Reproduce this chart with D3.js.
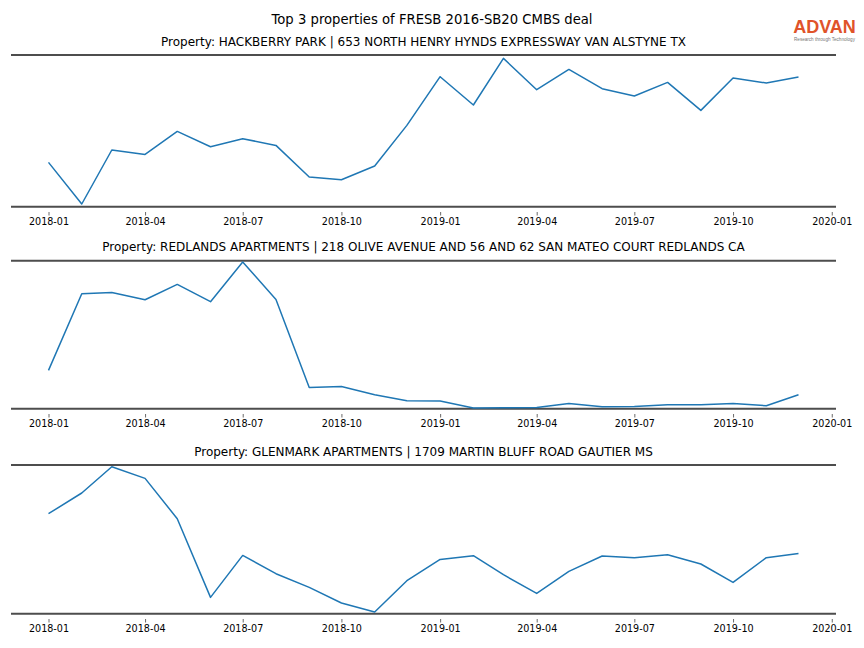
<!DOCTYPE html>
<html><head><meta charset="utf-8">
<script src="https://cdn.jsdelivr.net/npm/d3@7"></script>
<style>body{margin:0;background:#fff}svg{display:block}</style>
</head><body>
<script>
// ---- data ----
const months = ["2018-01","2018-02","2018-03","2018-04","2018-05","2018-06","2018-07","2018-08","2018-09","2018-10","2018-11","2018-12",
                "2019-01","2019-02","2019-03","2019-04","2019-05","2019-06","2019-07","2019-08","2019-09","2019-10","2019-11","2019-12"];
const titles = [
  "Property: HACKBERRY PARK | 653 NORTH HENRY HYNDS EXPRESSWAY VAN ALSTYNE TX",
  "Property: REDLANDS APARTMENTS | 218 OLIVE AVENUE AND 56 AND 62 SAN MATEO COURT REDLANDS CA",
  "Property: GLENMARK APARTMENTS | 1709 MARTIN BLUFF ROAD GAUTIER MS"
];
const hackberry = [44.3, 2.7, 56.7, 52.3, 75.3, 60, 68, 61.3, 29.7, 27, 40.7, 81.3,
                   130, 101.7, 148.3, 117, 137.3, 118, 110.7, 124.3, 96.3, 128.7, 123.7, 129.7];
const redlands  = [38.3, 115, 116.3, 109, 124.3, 107, 146.7, 109.3, 21.3, 22.3, 14, 8,
                   7.7, 0.7, 1, 1.3, 5.3, 2, 2.3, 4, 4, 5.3, 3, 14];
const glenmark  = [100, 120.7, 147, 135.3, 95, 16.3, 58.3, 40, 26.3, 10.7, 1.7, 33,
                   54.3, 58, 39, 20.3, 42.3, 57.7, 56, 59, 49.7, 31.3, 56, 60.3];
const yMax = [151.7, 148, 148.7];   // top of each panel in data units (y axis hidden)
const tickLabels = ["2018-01","2018-04","2018-07","2018-10","2019-01","2019-04","2019-07","2019-10","2020-01"];
const suptitle = "Top 3 properties of FRESB 2016-SB20 CMBS deal";

// ---- layout ----
const W = 864, H = 648;
const panels = [{top:55, bottom:206.7},{top:260.7, bottom:408.7},{top:465, bottom:613.7}];
const series = [hackberry, redlands, glenmark];
const parse = d3.timeParse("%Y-%m");
const dates = months.map(parse);
const ext = d3.extent(dates);
const pad = (ext[1] - ext[0]) * 0.05;
const x = d3.scaleTime().domain([new Date(+ext[0] - pad), new Date(+ext[1] + pad)]).range([11, 836]);

const svg = d3.select("body").append("svg").attr("width", W).attr("height", H)
  .style("font-family", "'DejaVu Sans', sans-serif");

svg.append("text").attr("x", 432).attr("y", 24).attr("text-anchor", "middle")
  .attr("font-size", 13.2).attr("fill", "#000").text(suptitle);

// logo
const logo = svg.append("g");
logo.append("text").attr("x", 824.5).attr("y", 33).attr("text-anchor", "middle")
  .attr("font-family", "'Liberation Sans', Arial, sans-serif").attr("font-size", 18)
  .attr("font-weight", "bold").attr("fill", "#e0532a").text("ADVAN");
logo.append("text").attr("x", 824.5).attr("y", 41).attr("text-anchor", "middle")
  .attr("font-family", "'Liberation Sans', Arial, sans-serif").attr("font-size", 4.6)
  .attr("fill", "#777").text("Research through Technology");

series.forEach((vals, i) => {
  const p = panels[i];
  const y = d3.scaleLinear().domain([0, yMax[i]]).range([p.bottom, p.top]);
  const g = svg.append("g");
  g.append("text").attr("x", 423.5).attr("y", p.top - 9.3).attr("text-anchor", "middle")
    .attr("font-size", 12).attr("fill", "#000").text(titles[i]);
  // spines
  g.append("line").attr("x1", 11).attr("x2", 836).attr("y1", p.top).attr("y2", p.top)
    .attr("stroke", "#4d4d4d").attr("stroke-width", 2);
  g.append("line").attr("x1", 11).attr("x2", 836).attr("y1", p.bottom).attr("y2", p.bottom)
    .attr("stroke", "#4d4d4d").attr("stroke-width", 2);
  // x axis
  const axis = d3.axisBottom(x).tickValues(tickLabels.map(parse))
    .tickFormat(d3.timeFormat("%Y-%m")).tickSize(3.5).tickPadding(3);
  const ag = g.append("g").attr("transform", `translate(0,${p.bottom + 5.3})`).call(axis);
  ag.select(".domain").remove();
  ag.selectAll(".tick line").attr("stroke", "#444").attr("stroke-width", 0.8);
  ag.selectAll(".tick text").attr("font-family", "'DejaVu Sans', sans-serif")
    .attr("font-size", 9.6).attr("fill", "#000");
  // line
  const line = d3.line().x((d, j) => x(dates[j])).y(d => y(d));
  g.append("path").datum(vals).attr("d", line).attr("fill", "none")
    .attr("stroke", "#1f77b4").attr("stroke-width", 1.5).attr("stroke-linejoin", "round");
});
</script>
</body></html>
